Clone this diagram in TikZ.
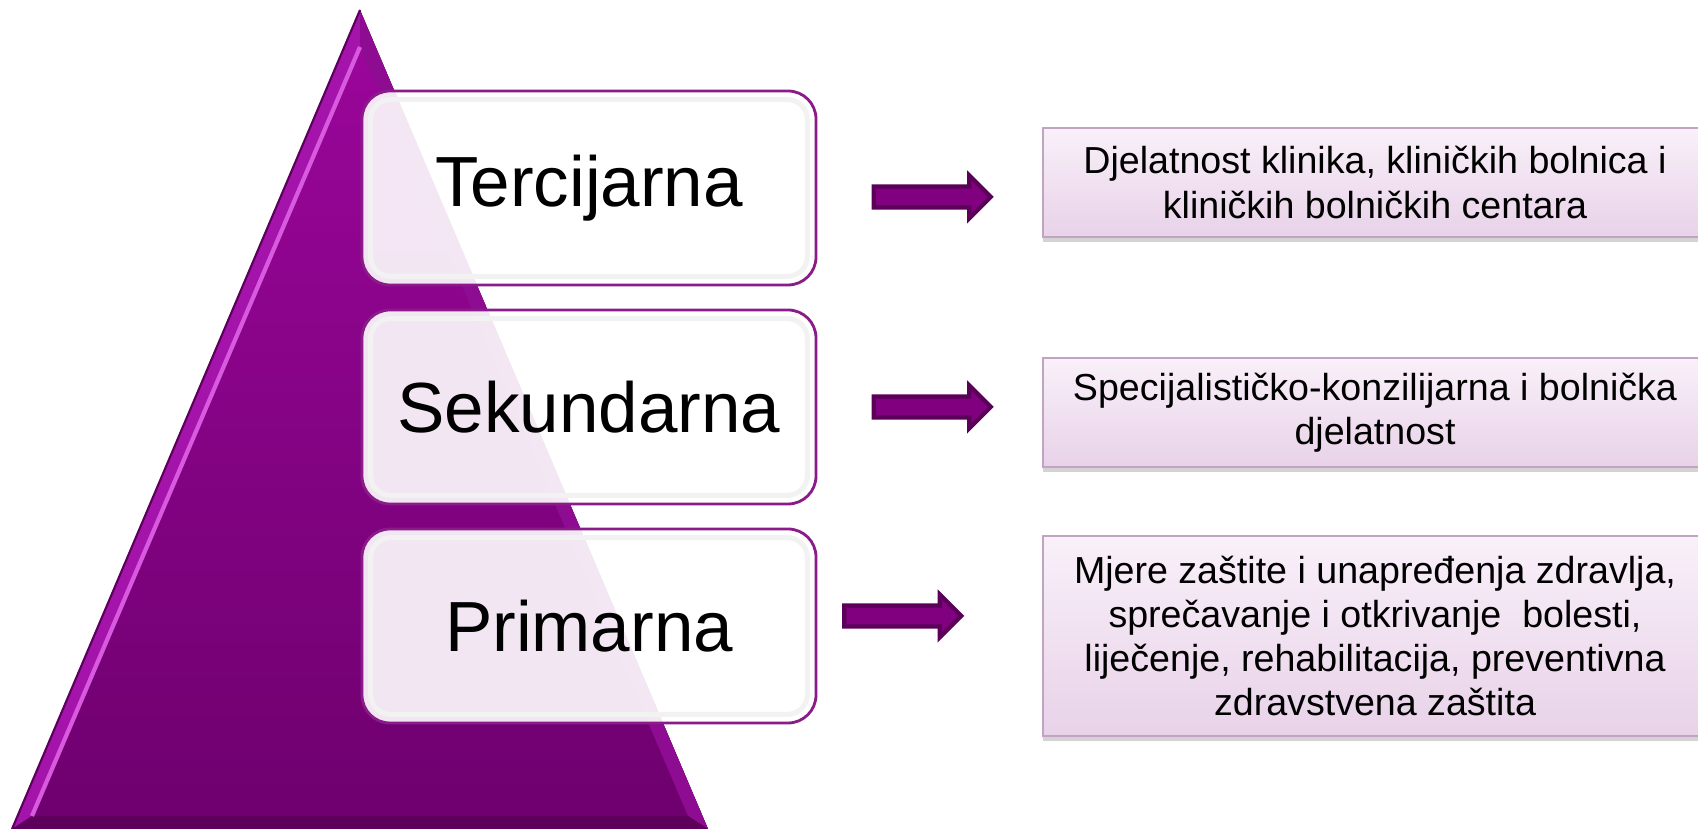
\documentclass[tikz,border=0pt]{standalone}
\usepackage{fontspec}
\setmainfont{Liberation Sans}
\usetikzlibrary{shapes.arrows,shadows,calc}

\definecolor{pyrtop}{HTML}{9C069C}
\definecolor{pyrbot}{HTML}{6E006E}
\definecolor{pyrside}{HTML}{A414AA}
\definecolor{pyrglow}{HTML}{D85ADF}
\definecolor{pyrdark}{HTML}{5C005C}
\definecolor{levelrim}{HTML}{8A1C8A}
\definecolor{arrfill}{HTML}{800080}
\definecolor{arrrim}{HTML}{5A0058}
\definecolor{desctop}{HTML}{F9F0F9}
\definecolor{descbot}{HTML}{E8D2E8}
\definecolor{descrim}{HTML}{C3A3C3}

\tikzset{
	level/.style={draw=levelrim, line width=0.8pt, fill=white, fill opacity=0.9, text opacity=1,
		rounded corners=0.28cm, minimum width=4.54cm, minimum height=1.94cm,
		font=\fontsize{20.2}{24}\selectfont},
	glassrim/.style={draw=black!5, line width=0.05cm, rounded corners=0.2cm},
	blockarr/.style={single arrow, draw=arrrim, fill=arrfill, line width=1.2pt,
		minimum height=1.17cm, inner xsep=0pt, inner ysep=0.084cm,
		single arrow head extend=0.111cm, single arrow head indent=0cm},
	desc/.style={draw=descrim, line width=0.7pt, top color=desctop, bottom color=descbot,
		minimum width=6.64cm, align=center, inner sep=0pt,
		font=\fontsize{10.7}{12.6}\selectfont,
		drop shadow={shadow xshift=0cm, shadow yshift=-0.05cm, opacity=0.35}}
}

\begin{document}
\begin{tikzpicture}
	\useasboundingbox (0,0) rectangle (16.98,8.29);
	\clip (0,0) rectangle (16.98,8.29);
	
	% Pyramid
	\coordinate (apex) at (3.60,8.19);
	\coordinate (bl) at (0.12,0);
	\coordinate (br) at (7.08,0);
	\coordinate (iapex) at (3.60,7.82);
	\coordinate (ibl) at (0.32,0.13);
	\coordinate (ibr) at (6.88,0.13);
	\fill[top color=pyrtop, bottom color=pyrbot] (apex) -- (br) -- (bl) -- cycle;
	\fill[pyrside] (apex) -- (iapex) -- (ibl) -- (bl) -- cycle;
	\fill[pyrside!60!pyrbot] (apex) -- (br) -- (ibr) -- (iapex) -- cycle;
	\fill[pyrdark] (bl) -- (ibl) -- (ibr) -- (br) -- cycle;
	\draw[pyrglow, line width=1.2pt] (iapex) -- (ibl);
	\draw[pyrdark, line width=0.6pt] (apex) -- (bl);
	
	% Levels
	\node[level] (ter) at (5.89,6.41) {Tercijarna};
	\node[level] (sek) at (5.89,4.22) {Sekundarna};
	\node[level] (pri) at (5.89,2.03) {Primarna};
	\foreach \lv in {ter,sek,pri}
		\draw[glassrim] ($(\lv.south west)+(0.1,0.1)$) rectangle ($(\lv.north east)-(0.1,0.1)$);
	
	% Arrows
	\node[blockarr] (terarr) at (9.27,6.32) {};
	\node[blockarr] (sekarr) at (9.27,4.22) {};
	\node[blockarr] (priarr) at (8.975,2.13) {};
	
	% Descriptions
	\node[desc, minimum height=1.09cm] (terdesc) at (13.75,6.465)
		{Djelatnost klinika, kliničkih bolnica i\\kliničkih bolničkih centara};
	\node[desc, minimum height=1.09cm] (sekdesc) at (13.75,4.165)
		{Specijalističko-konzilijarna i bolnička\\djelatnost};
	\node[desc, minimum height=2.00cm] (pridesc) at (13.75,1.93)
		{Mjere zaštite i unapređenja zdravlja,\\sprečavanje i otkrivanje\ \ bolesti,\\liječenje, rehabilitacija, preventivna\\zdravstvena zaštita};
	
\end{tikzpicture}
\end{document}
